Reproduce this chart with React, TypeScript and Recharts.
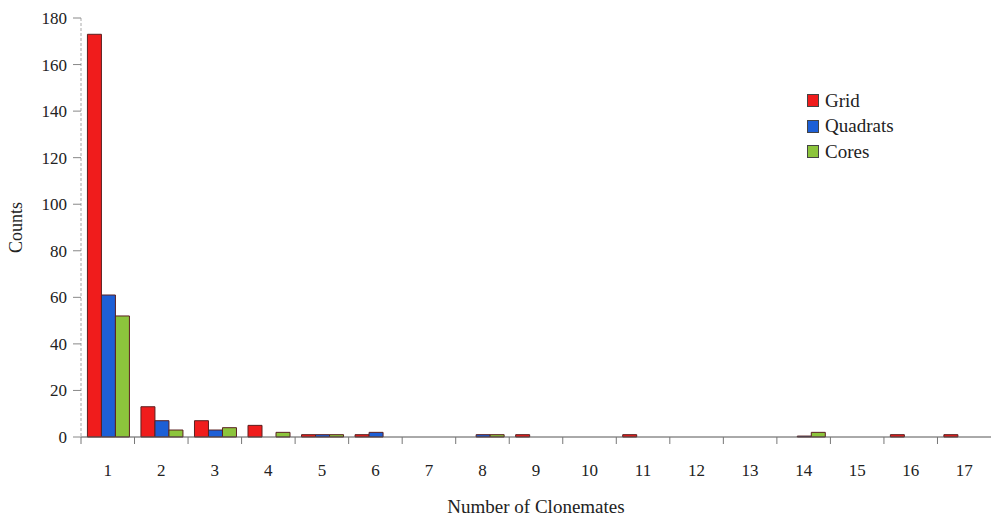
import React from 'react';
import { BarChart, Bar, XAxis, YAxis, Legend } from 'recharts';

const categories = ['1', '2', '3', '4', '5', '6', '7', '8', '9', '10', '11', '12', '13', '14', '15', '16', '17'];
const grid = [173, 13, 7, 5, 1, 1, 0, 0, 1, 0, 1, 0, 0, 0, 0, 1, 1];
const quadrats = [61, 7, 3, 0, 1, 2, 0, 1, 0, 0, 0, 0, 0, 0.4, 0, 0, 0];
const cores = [52, 3, 4, 2, 1, 0, 0, 1, 0, 0, 0, 0, 0, 2, 0, 0, 0];
const yTicks = [0, 20, 40, 60, 80, 100, 120, 140, 160, 180];

const series = [
  { key: 'Grid', color: '#f01c1c' },
  { key: 'Quadrats', color: '#1d5fd6' },
  { key: 'Cores', color: '#8cc43c' },
];

const data = categories.map((c, i) => ({
  name: c,
  Grid: grid[i],
  Quadrats: quadrats[i],
  Cores: cores[i],
}));

const FONT = '"Liberation Serif", "DejaVu Serif", serif';

const XTick = ({ x, y, payload }: any) => {
  const half = 910 / 17 / 2;
  return (
    <g>
      <line x1={x - half} y1={y - 8} x2={x - half} y2={y - 1} stroke="#777" strokeWidth={1} />
      <text x={x} y={y + 31} textAnchor="middle" fontFamily={FONT} fontSize={17} fill="#222">
        {payload.value}
      </text>
    </g>
  );
};

const LegendBox = () => (
  <div style={{ fontFamily: FONT, fontSize: 19, color: '#222' }}>
    {series.map((s) => (
      <div key={s.key} style={{ display: 'flex', alignItems: 'center', height: 25.5 }}>
        <span
          style={{
            display: 'inline-block',
            width: 10,
            height: 11,
            background: s.color,
            border: '1px solid #444',
            marginRight: 6,
          }}
        />
        {s.key}
      </div>
    ))}
  </div>
);

export default function App() {
  return (
    <div style={{ position: 'fixed', left: 0, top: 0, width: 991, height: 519, background: '#fff' }}>
      <BarChart
        width={991}
        height={519}
        data={data}
        margin={{ top: 18, right: 0, bottom: 0, left: 0 }}
        barCategoryGap="12%"
        barGap={0}
      >
        <XAxis
          dataKey="name"
          height={82}
          tickLine={false}
          axisLine={{ stroke: '#555' }}
          tick={<XTick />}
          interval={0}
          label={{
            value: 'Number of Clonemates',
            position: 'insideBottom',
            offset: 6,
            style: { fontFamily: FONT, fontSize: 19, fill: '#222' },
          }}
        />
        <YAxis
          width={81}
          domain={[0, 180]}
          ticks={yTicks}
          interval={0}
          axisLine={{ stroke: '#aaa', strokeDasharray: '3 2' }}
          tickLine={{ stroke: '#888' }}
          tickSize={8}
          tickMargin={6}
          tick={{ fontFamily: FONT, fontSize: 17, fill: '#222' }}
          label={{
            value: 'Counts',
            angle: -90,
            position: 'insideLeft',
            offset: 16,
            style: { fontFamily: FONT, fontSize: 18, fill: '#222', textAnchor: 'middle' },
          }}
        />
        <Legend
          layout="horizontal"
          verticalAlign="middle"
          align="center"
          content={<LegendBox />}
          wrapperStyle={{ top: 88, left: 807, width: 130 }}
        />
        {series.map((s) => (
          <Bar
            key={s.key}
            dataKey={s.key}
            fill={s.color}
            stroke="#5a2020"
            strokeWidth={1}
            isAnimationActive={false}
          />
        ))}
      </BarChart>
    </div>
  );
}
